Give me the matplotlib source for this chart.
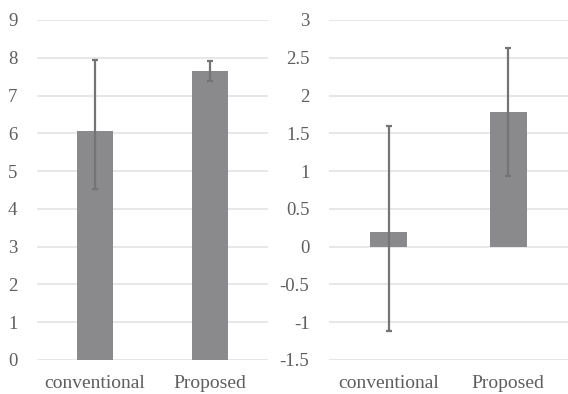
import numpy as np
import matplotlib.pyplot as plt
import matplotlib as mpl

mpl.rcParams['font.family'] = 'Liberation Serif'

categories = ['conventional', 'Proposed']

left_vals = [6.05, 7.65]
left_low = [4.52, 7.38]
left_high = [7.95, 7.92]

right_vals = [0.20, 1.78]
right_low = [-1.12, 0.93]
right_high = [1.60, 2.63]

bar_color = '#8a8a8d'
err_color = '#747474'
grid_color = '#e3e3e3'
text_color = '#5e5e5e'

f = plt.figure(figsize=(5.68, 3.94), dpi=100)
ax1 = f.add_axes([0.065, 0.0863, 0.407, 0.863])
ax2 = f.add_axes([0.579, 0.0863, 0.421, 0.863])


def draw(ax, vals, low, high, ylim, ticks, labels):
    x = np.arange(len(categories))
    vals = np.array(vals)
    err = [vals - np.array(low), np.array(high) - vals]
    ax.bar(x, vals, width=0.31, color=bar_color, zorder=2)
    ax.errorbar(x, vals, yerr=err, fmt='none', ecolor=err_color,
                elinewidth=1.6, capsize=2.5, capthick=1.6, zorder=3)
    ax.set_xlim(-0.5, 1.5)
    ax.set_ylim(*ylim)
    ax.set_yticks(ticks)
    ax.set_yticklabels(labels)
    ax.set_xticks(x)
    ax.set_xticklabels(categories, fontsize=14)
    ax.grid(axis='y', color=grid_color, linewidth=1.2, zorder=0)
    for s in ax.spines.values():
        s.set_visible(False)
    ax.tick_params(length=0, labelcolor=text_color)
    ax.tick_params(axis='y', pad=14, labelsize=13.5)
    ax.tick_params(axis='x', pad=11)


draw(ax1, left_vals, left_low, left_high, (0, 9),
     np.arange(0, 10), [str(i) for i in range(10)])
rt = np.arange(-1.5, 3.01, 0.5)
draw(ax2, right_vals, right_low, right_high, (-1.5, 3),
     rt, ['%g' % t for t in rt])

f.savefig('out.png', dpi=100)
